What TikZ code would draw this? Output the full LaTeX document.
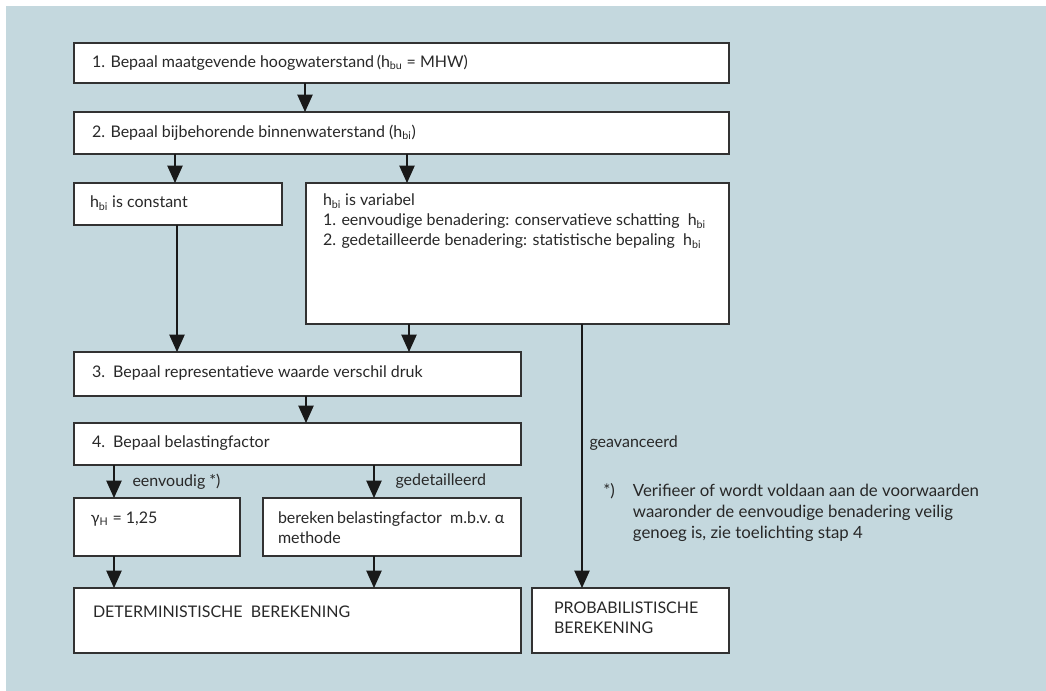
\documentclass[tikz,border=0pt]{standalone}
\usepackage{fontspec}
\setmainfont{Lato}
\usetikzlibrary{arrows.meta,calc}
\definecolor{bgblue}{RGB}{196,216,222}
\definecolor{edgegray}{RGB}{50,50,50}
\definecolor{txtgray}{RGB}{40,40,40}
\newdimen\PX \PX=0.75pt
% width, height, left pad, top pad, text
\newcommand\bt[5]{\parbox[c][#2\PX][t]{#1\PX}{\vspace*{#4\PX}\raggedright\leftskip=#3\PX\relax\noindent #5}}
\tikzset{
  box/.style={draw=edgegray, line width=0.8pt, fill=white, inner sep=0pt, outer sep=0pt, anchor=north west},
  arr/.style={line width=0.8pt, draw=black!90, -{Triangle[length=13pt,width=11.5pt]}},
  lbl/.style={inner sep=0pt, anchor=west},
  every node/.style={font=\fontsize{12pt}{15pt}\selectfont, text=txtgray}
}
\begin{document}
\begin{tikzpicture}[x=0.75pt,y=-0.75pt]
\useasboundingbox (0,0) rectangle (1046,691);
\fill[white] (0,0) rectangle (1046,691);
\fill[bgblue] (6,6) rectangle (1046,691);

\node[box] (b1) at (74,43) {\bt{655}{40}{18}{12}{1. Bepaal maatgevende hoogwaterstand\,(h\textsubscript{bu} = MHW)}};
\node[box] (b2) at (74,112) {\bt{655}{42}{18}{13}{2. Bepaal bijbehorende binnenwaterstand (h\textsubscript{bi})}};
\node[box] (bc) at (74,183) {\bt{208}{42}{16}{13}{h\textsubscript{bi} is constant}};
\node[box] (bv) at (306,183) {\bt{423}{141}{17}{11}{h\textsubscript{bi} is variabel\\
1. eenvoudige benadering: conservatieve schatting\ \ h\textsubscript{bi}\\
2. gedetailleerde benadering: statistische bepaling\ \ h\textsubscript{bi}}};
\node[box] (b3) at (74,352) {\bt{447}{44}{18}{14}{3.\ \ Bepaal representatieve waarde verschil druk}};
\node[box] (b4) at (74,423) {\bt{447}{42}{18}{13}{4.\ \ Bepaal belastingfactor}};
\node[box] (bg) at (74,498) {\bt{166}{58}{17}{14}{γ\textsubscript{H} = 1,25}};
\node[box] (bb) at (263,498) {\bt{258}{58}{15}{14}{bereken\,belastingfactor\ \ m.b.v.\ α\\methode}};
\node[box] (bd) at (74,588) {\bt{447}{65}{19}{18}{DETERMINISTISCHE\ \ BEREKENING}};
\node[box] (bp) at (532,588) {\bt{197}{65}{22}{14}{PROBABILISTISCHE\\BEREKENING}};

\draw[arr] ($(b1.south west)+(231,0)$) -- ($(b2.north west)+(231,0)$);
\draw[arr] ($(b2.south west)+(101,0)$) -- ($(bc.north west)+(101,0)$);
\draw[arr] ($(b2.south west)+(333,0)$) -- ($(bv.north west)+(101,0)$);
\draw[arr] ($(bc.south west)+(103,0)$) -- ($(b3.north west)+(103,0)$);
\draw[arr] ($(bv.south west)+(103,0)$) -- ($(b3.north west)+(335,0)$);
\draw[arr] ($(bv.south west)+(276,0)$) -- node[lbl, pos=0.45, xshift=7\PX] (lgeav) {geavanceerd} ($(bp.north west)+(50,0)$);
\draw[arr] ($(b3.south west)+(232,0)$) -- ($(b4.north west)+(232,0)$);
\draw[arr] ($(b4.south west)+(40,0)$) -- node[lbl, pos=0.5, xshift=18\PX] (leenv) {eenvoudig *)} ($(bg.north west)+(40,0)$);
\draw[arr] ($(b4.south west)+(300,0)$) -- node[lbl, pos=0.5, xshift=21\PX] (lgedet) {gedetailleerd} ($(bb.north west)+(111,0)$);
\draw[arr] ($(bg.south west)+(40,0)$) -- ($(bd.north west)+(40,0)$);
\draw[arr] ($(bb.south west)+(111,0)$) -- ($(bd.north west)+(300,0)$);

\node[inner sep=0pt, anchor=north west, font=\fontsize{12.6pt}{15.5pt}\selectfont] (fn) at (603,482) {%
\begin{tabular}{@{}l@{\hspace{18\PX}}l@{}}
*) & Verifieer of wordt voldaan aan de voorwaarden\\
   & waaronder de eenvoudige benadering veilig\\
   & genoeg is, zie toelichting stap 4
\end{tabular}};
\end{tikzpicture}
\end{document}
